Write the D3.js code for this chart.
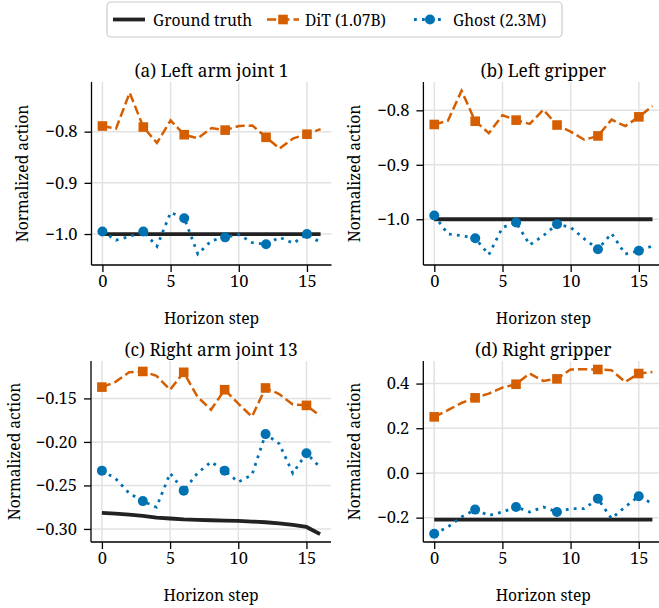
<!DOCTYPE html>
<html><head><meta charset="utf-8">
<script src="https://cdn.jsdelivr.net/npm/d3@7"></script>
<style>body{margin:0;background:#fff}svg{display:block}
svg text{font-family:"Noto Serif","DejaVu Serif",serif;fill:#000;}
</style>
</head><body>
<svg id="c" width="659" height="608"></svg>
<script>
const steps = d3.range(0, 17);
const markerSteps = [0, 3, 6, 9, 12, 15];
const titles = ["(a) Left arm joint 1", "(b) Left gripper", "(c) Right arm joint 13", "(d) Right gripper"];
const legendLabels = ["Ground truth", "DiT (1.07B)", "Ghost (2.3M)"];

const gtA = [-1,-1,-1,-1,-1,-1,-1,-1,-1,-1,-1,-1,-1,-1,-1,-1,-1];
const ditA = [-0.789,-0.794,-0.724,-0.791,-0.822,-0.778,-0.806,-0.813,-0.793,-0.797,-0.789,-0.788,-0.811,-0.833,-0.813,-0.805,-0.795];
const ghostA = [-0.995,-1.012,-1.005,-0.995,-1.024,-0.958,-0.969,-1.039,-1.013,-1.0065,-1.001,-1.017,-1.02,-1.0065,-1.018,-1.0,-1.017];

const gtB = [-1,-1,-1,-1,-1,-1,-1,-1,-1,-1,-1,-1,-1,-1,-1,-1,-1];
const ditB = [-0.826,-0.819,-0.764,-0.820,-0.842,-0.809,-0.818,-0.825,-0.799,-0.827,-0.839,-0.854,-0.847,-0.817,-0.829,-0.812,-0.792];
const ghostB = [-0.993,-1.027,-1.03,-1.035,-1.065,-1.015,-1.006,-1.047,-1.03,-1.009,-1.015,-1.036,-1.055,-1.026,-1.064,-1.058,-1.049];

const gtC = [-0.2816,-0.2824,-0.2835,-0.285,-0.287,-0.288,-0.289,-0.2896,-0.290,-0.2904,-0.2908,-0.2915,-0.2923,-0.2935,-0.2954,-0.2977,-0.306];
const ditC = [-0.137,-0.131,-0.120,-0.119,-0.124,-0.140,-0.120,-0.148,-0.163,-0.140,-0.156,-0.171,-0.138,-0.145,-0.157,-0.158,-0.170];
const ghostC = [-0.233,-0.242,-0.259,-0.268,-0.275,-0.236,-0.256,-0.236,-0.223,-0.233,-0.246,-0.238,-0.191,-0.202,-0.236,-0.213,-0.229];

const gtD = [-0.209,-0.209,-0.209,-0.209,-0.209,-0.209,-0.209,-0.209,-0.209,-0.209,-0.209,-0.209,-0.209,-0.209,-0.209,-0.209,-0.209];
const ditD = [0.251,0.281,0.313,0.336,0.355,0.382,0.397,0.445,0.412,0.421,0.463,0.464,0.463,0.460,0.407,0.445,0.452];
const ghostD = [-0.272,-0.242,-0.197,-0.164,-0.190,-0.175,-0.152,-0.175,-0.152,-0.175,-0.160,-0.160,-0.115,-0.204,-0.152,-0.104,-0.137];

const xTicks = [0, 5, 10, 15];
const yTicksA = [-0.8, -0.9, -1.0];
const yTicksB = [-0.8, -0.9, -1.0];
const yTicksC = [-0.15, -0.20, -0.25, -0.30];
const yTicksD = [0.4, 0.2, 0.0, -0.2];

const C_GT = "#222222", C_DIT = "#d55e00", C_GH = "#0072b2";

const panels = [
  {title: titles[0], gt: gtA, dit: ditA, ghost: ghostA, yt: yTicksA, fmt: ".1f", dom: [-1.0605, -0.703], left: 91.5, top: 82, bottom: 265, ylabX: 28},
  {title: titles[1], gt: gtB, dit: ditB, ghost: ghostB, yt: yTicksB, fmt: ".1f", dom: [-1.084, -0.748], left: 423.4, top: 82, bottom: 265, ylabX: 359.5},
  {title: titles[2], gt: gtC, dit: ditC, ghost: ghostC, yt: yTicksC, fmt: ".2f", dom: [-0.315, -0.107], left: 91, top: 361, bottom: 542, ylabX: 20},
  {title: titles[3], gt: gtD, dit: ditD, ghost: ghostD, yt: yTicksD, fmt: ".1f", dom: [-0.309, 0.501], left: 423.3, top: 361, bottom: 542, ylabX: 359.5}
];

const svg = d3.select("#c");
const W = 240;

panels.forEach((p, i) => {
  const x = d3.scaleLinear().domain([-0.8, 16.8]).range([p.left, p.left + W]);
  const y = d3.scaleLinear().domain(p.dom).range([p.bottom, p.top]);
  const g = svg.append("g");
  const clipId = "clip" + i;
  svg.append("clipPath").attr("id", clipId).append("rect")
    .attr("x", p.left).attr("y", p.top).attr("width", W).attr("height", p.bottom - p.top);

  g.append("g").selectAll("line").data(xTicks).join("line")
    .attr("x1", d => x(d)).attr("x2", d => x(d)).attr("y1", p.top).attr("y2", p.bottom)
    .attr("stroke", "#e2e2e2").attr("stroke-width", 1.5);
  g.append("g").selectAll("line").data(p.yt).join("line")
    .attr("x1", p.left).attr("x2", p.left + W).attr("y1", d => y(d)).attr("y2", d => y(d))
    .attr("stroke", "#e2e2e2").attr("stroke-width", 1.5);

  const fmt = d3.format(p.fmt);
  const xa = g.append("g").attr("transform", `translate(0,${p.bottom})`)
    .call(d3.axisBottom(x).tickValues(xTicks).tickSize(7).tickPadding(3.5).tickFormat(d3.format("d")));
  const ya = g.append("g").attr("transform", `translate(${p.left},0)`)
    .call(d3.axisLeft(y).tickValues(p.yt).tickSize(7).tickPadding(7).tickFormat(d => fmt(d).replace("-", "\u2212")));
  [xa, ya].forEach(a => {
    a.attr("font-family", null).attr("font-size", null);
    a.select(".domain").attr("stroke", "#000").attr("stroke-width", 1.3).attr("d",
      a === xa ? `M${p.left},0H${p.left + W}` : `M0,${p.top}V${p.bottom}`);
    a.selectAll(".tick line").attr("stroke", "#000").attr("stroke-width", 1.3);
    a.selectAll(".tick text").style("font-size", "16.5px").attr("fill", "#000");
  });

  const plot = g.append("g").attr("clip-path", `url(#${clipId})`);
  const line = vals => d3.line().x((d, j) => x(steps[j])).y(d => y(d))(vals);

  plot.append("path").attr("d", line(p.gt)).attr("fill", "none").attr("stroke", C_GT).attr("stroke-width", 3.8);
  plot.append("path").attr("d", line(p.dit)).attr("fill", "none").attr("stroke", C_DIT).attr("stroke-width", 2.5).attr("stroke-dasharray", "9.25,4");
  plot.append("path").attr("d", line(p.ghost)).attr("fill", "none").attr("stroke", C_GH).attr("stroke-width", 2.8).attr("stroke-dasharray", "2.8,5.2");

  plot.append("g").selectAll("rect").data(markerSteps).join("rect")
    .attr("x", d => x(d) - 4.8).attr("y", d => y(p.dit[d]) - 4.8).attr("width", 9.6).attr("height", 9.6).attr("fill", C_DIT);
  plot.append("g").selectAll("circle").data(markerSteps).join("circle")
    .attr("cx", d => x(d)).attr("cy", d => y(p.ghost[d])).attr("r", 5).attr("fill", C_GH);

  g.append("text").attr("x", p.left + 120).attr("y", p.top - 5).attr("text-anchor", "middle")
    .style("font-size", "17.3px").text(p.title);
  g.append("text").attr("x", p.left + 120).attr("y", p.bottom + 59).attr("text-anchor", "middle")
    .style("font-size", "15.6px").text("Horizon step");
  g.append("text").attr("transform", `translate(${p.ylabX},${(p.top + p.bottom) / 2}) rotate(-90)`)
    .attr("text-anchor", "middle")
    .style("font-size", "15.6px").text("Normalized action");
});

const lg = svg.append("g");
lg.append("rect").attr("x", 107).attr("y", 2).attr("width", 455).attr("height", 35).attr("rx", 4)
  .attr("fill", "#fff").attr("stroke", "#cccccc").attr("stroke-width", 1.2);
const items = [
  {label: legendLabels[0], x0: 113, tx: 153, color: C_GT, w: 3.8, dash: null, m: null},
  {label: legendLabels[1], x0: 267, tx: 305, color: C_DIT, w: 2.5, dash: "9.25,4", m: "sq"},
  {label: legendLabels[2], x0: 414, tx: 453, color: C_GH, w: 2.8, dash: "2.8,5.2", m: "ci"}
];
items.forEach(it => {
  const cy = 19.5;
  lg.append("line").attr("x1", it.x0).attr("x2", it.x0 + 32).attr("y1", cy).attr("y2", cy)
    .attr("stroke", it.color).attr("stroke-width", it.w).attr("stroke-dasharray", it.dash);
  if (it.m === "sq") lg.append("rect").attr("x", it.x0 + 16 - 4.8).attr("y", cy - 4.8).attr("width", 9.6).attr("height", 9.6).attr("fill", it.color);
  if (it.m === "ci") lg.append("circle").attr("cx", it.x0 + 16).attr("cy", cy).attr("r", 5).attr("fill", it.color);
  lg.append("text").attr("x", it.tx).attr("y", cy).attr("dominant-baseline", "central")
    .style("font-size", "15.6px").text(it.label);
});
</script>
</body></html>
